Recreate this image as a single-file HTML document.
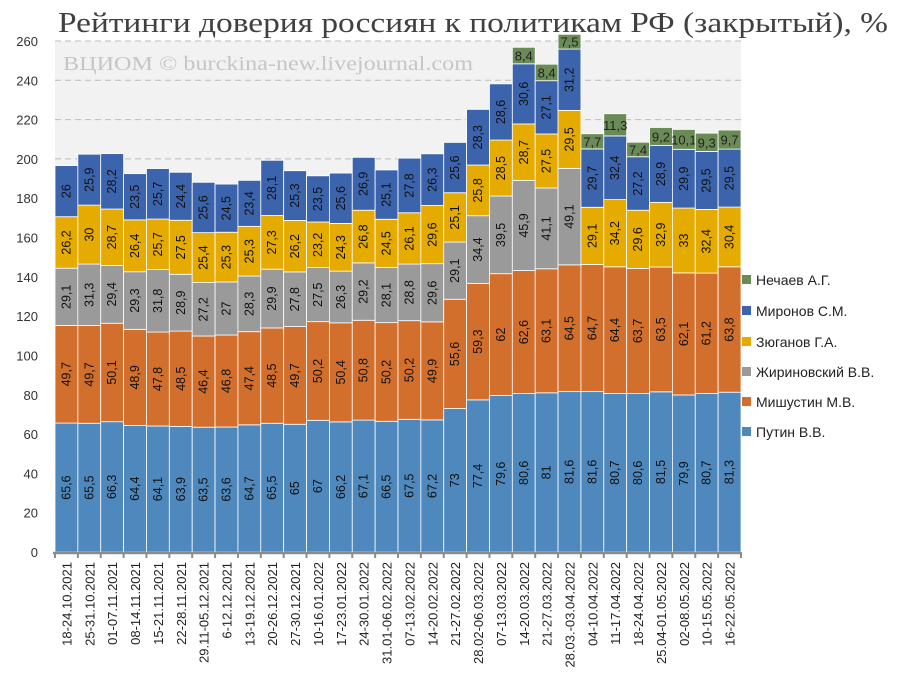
<!DOCTYPE html>
<html><head><meta charset="utf-8">
<style>
body{margin:0;background:#fff;width:901px;height:688px;overflow:hidden}
svg{display:block;font-family:"Liberation Sans","DejaVu Sans",sans-serif}
</style></head>
<body>
<svg id="chart" width="901" height="688">
<text x="58" y="32" font-family="Liberation Serif, DejaVu Serif, serif" font-size="28" textLength="830" lengthAdjust="spacingAndGlyphs" fill="#404040">Рейтинги доверия россиян к политикам РФ (закрытый), %</text>
<rect x="55" y="41" width="686" height="511" fill="#f2f2f2"/>
<g id="grid"></g>
<text x="63" y="70" font-family="Liberation Serif, DejaVu Serif, serif" font-size="20" textLength="410" lengthAdjust="spacingAndGlyphs" fill="#c6c6c6">ВЦИОМ © burckina-new.livejournal.com</text>
<g id="bars"></g>
<g id="axes"></g>
<g id="legend"></g>
</svg>
<script>
const categories=["18-24.10.2021","25-31.10.2021","01-07.11.2021","08-14.11.2021","15-21.11.2021","22-28.11.2021","29.11-05.12.2021","6-12.12.2021","13-19.12.2021","20-26.12.2021","27-30.12.2021","10-16.01.2022","17-23.01.2022","24-30.01.2022","31.01-06.02.2022","07-13.02.2022","14-20.02.2022","21-27.02.2022","28.02-06.03.2022","07-13.03.2022","14-20.03.2022","21-27.03.2022","28.03.-03.04.2022","04-10.04.2022","11-17.04.2022","18-24.04.2022","25.04-01.05.2022","02-08.05.2022","10-15.05.2022","16-22.05.2022"];
const putin=[65.6,65.5,66.3,64.4,64.1,63.9,63.5,63.6,64.7,65.5,65,67,66.2,67.1,66.5,67.5,67.2,73,77.4,79.6,80.6,81,81.6,81.6,80.7,80.6,81.5,79.9,80.7,81.3];
const mishustin=[49.7,49.7,50.1,48.9,47.8,48.5,46.4,46.8,47.4,48.5,49.7,50.2,50.4,50.8,50.2,50.2,49.9,55.6,59.3,62,62.6,63.1,64.5,64.7,64.4,63.7,63.5,62.1,61.2,63.8];
const zhirinovsky=[29.1,31.3,29.4,29.3,31.8,28.9,27.2,27,28.3,29.9,27.8,27.5,26.3,29.2,28.1,28.8,29.6,29.1,34.4,39.5,45.9,41.1,49.1,0,0,0,0,0,0,0];
const zyuganov=[26.2,30,28.7,26.4,25.7,27.5,25.4,25.3,25.3,27.3,26.2,23.2,24.3,26.8,24.5,26.1,29.6,25.1,25.8,28.5,28.7,27.5,29.5,29.1,34.2,29.6,32.9,33,32.4,30.4];
const mironov=[26,25.9,28.2,23.5,25.7,24.4,25.6,24.5,23.4,28.1,25.3,23.5,25.6,26.9,25.1,27.8,26.3,25.6,28.3,28.6,30.6,27.1,31.2,29.7,32.4,27.2,28.9,29.9,29.5,29.5];
const nechaev=[0,0,0,0,0,0,0,0,0,0,0,0,0,0,0,0,0,0,0,0,8.4,8.4,7.5,7.7,11.3,7.4,9.2,10.1,9.3,9.7];
const yTicks=[0,20,40,60,80,100,120,140,160,180,200,220,240,260];
const seriesNames=["Путин В.В.","Мишустин М.В.","Жириновский В.В.","Зюганов Г.А.","Миронов С.М.","Нечаев А.Г."];

const NS="http://www.w3.org/2000/svg";
const X0=55,X1=741,Y0=552,Y1=41,YMAX=260;
const colors=["#4f88bc","#d36f2c","#9a9a9a","#e5ab00","#3c64ad","#6b8b56"];
const series=[putin,mishustin,zhirinovsky,zyuganov,mironov,nechaev];
const slugs=["putin","mishustin","zhirinovsky","zyuganov","mironov","nechaev"];
const bw=(X1-X0)/categories.length;
function yS(v){return Y0-(v/YMAX)*(Y0-Y1);}
function xS(i){return X0+i*bw;}
function mk(tag,attrs,parent){const e=document.createElementNS(NS,tag);for(const k in attrs)e.setAttribute(k,attrs[k]);parent.appendChild(e);return e;}
function fmt(v){return String(v).replace('.',',');}

const grid=document.getElementById('grid');
yTicks.forEach(t=>{
  if(t===0)return;
  const l=mk('line',{x1:X0,x2:X1,y1:yS(t),y2:yS(t),stroke:'#bdbdbd','stroke-width':1,'stroke-dasharray':'6,4'},grid);
  
  
});

const bars=document.getElementById('bars');
categories.forEach((c,i)=>{
  let acc=0;
  series.forEach((s,k)=>{
    const v=s[i];
    if(!v)return;
    const yt=yS(acc+v),yb=yS(acc);
    const r=mk('rect',{x:xS(i),y:yt,width:bw,height:yb-yt,fill:colors[k],stroke:'#ffffff','stroke-width':0.8},bars);
    
    
    const cx=xS(i)+bw/2+4,cy=(yt+yb)/2;
    if(k===5){
      const t=mk('text',{x:xS(i)+bw/2,y:yt+(yb-yt)/2+5,'text-anchor':'middle','font-size':13,fill:'#222'},bars);
      t.textContent=fmt(v);
      
      
    } else {
      const t=mk('text',{x:cx,y:cy,'text-anchor':'middle','font-size':12.5,fill:'#111',transform:`rotate(-90 ${cx} ${cy})`},bars);
      t.textContent=fmt(v);
      
      
    }
    acc+=v;
  });
});

const axes=document.getElementById('axes');
const ax=mk('line',{x1:X0-2,x2:X1,y1:Y0+1,y2:Y0+1,stroke:'#8c8c8c','stroke-width':2.5},axes);


for(let i=0;i<=categories.length;i++){
  const tk=mk('line',{x1:xS(i),x2:xS(i),y1:Y0,y2:Y0+6,stroke:'#8c8c8c','stroke-width':2},axes);
  
  
}
yTicks.forEach(t=>{
  const tx=mk('text',{x:38,y:yS(t)+5,'text-anchor':'end','font-size':13,fill:'#333'},axes);
  tx.textContent=t;
  
  
});
categories.forEach((c,i)=>{
  const cx=xS(i)+bw/2+5,cy=562;
  const tx=mk('text',{x:cx,y:cy,'text-anchor':'end','font-size':13,fill:'#222',transform:`rotate(-90 ${cx} ${cy})`},axes);
  tx.textContent=c;
  
  
});

const legend=document.getElementById('legend');
const ly=[432,402,372,342,311,280];
seriesNames.forEach((n,k)=>{
  const g=mk('g',{},legend);
  
  
  mk('rect',{x:742,y:ly[k]-5,width:9,height:9,fill:colors[k]},g);
  const t=mk('text',{x:756,y:ly[k]+5,'font-size':14,fill:'#222'},g);
  t.textContent=n;
});
</script>
</body></html>
